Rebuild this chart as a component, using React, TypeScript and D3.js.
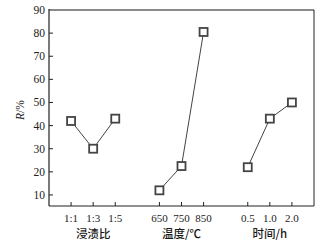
import { useEffect, useRef } from 'react';
import * as d3 from 'd3';

// slots on the x axis, blanks are the gaps between the three groups
const slots = ['1:1', '1:3', '1:5', 'gap1', '650', '750', '850', 'gap2', '0.5', '1.0', '2.0'];
const ratioCats = ['1:1', '1:3', '1:5'];
const ratioVals = [42, 30, 43];
const tempCats = ['650', '750', '850'];
const tempVals = [12, 22.5, 80.5];
const timeCats = ['0.5', '1.0', '2.0'];
const timeVals = [22, 43, 50];
const groupLabels = ['浸渍比', '温度/℃', '时间/h'];
const groupCenters = ['1:3', '750', '1.0'];
const yTicks = [10, 20, 30, 40, 50, 60, 70, 80, 90];

const width = 328;
const height = 244;

export default function App() {
  const svgRef = useRef<SVGSVGElement>(null);

  useEffect(() => {
    if (!svgRef.current) return;
    const svg = d3.select(svgRef.current);
    svg.selectAll('*').remove();

    const margin = { top: 10, right: 14, bottom: 38, left: 49 };
    const x0 = margin.left;
    const x1 = width - margin.right;
    const y0 = height - margin.bottom;
    const y1 = margin.top;

    const x = d3.scalePoint<string>().domain(slots).range([x0, x1]).padding(1);
    const y = d3.scaleLinear().domain([5, 90]).range([y0 + 0.5, y1]);

    const serif = '"Liberation Serif", "DejaVu Serif", serif';
    const cjk = '"Noto Sans CJK SC", sans-serif';

    // frame
    svg.append('line').attr('x1', x0).attr('x2', x1).attr('y1', y1).attr('y2', y1)
      .attr('stroke', '#8a8a8a').attr('stroke-width', 2);
    svg.append('line').attr('x1', x1).attr('x2', x1).attr('y1', y1).attr('y2', y0)
      .attr('stroke', '#222').attr('stroke-width', 1);
    svg.append('line').attr('x1', x0).attr('x2', x0).attr('y1', y1 - 1).attr('y2', y0)
      .attr('stroke', '#222').attr('stroke-width', 1.2);
    svg.append('line').attr('x1', x0).attr('x2', x1).attr('y1', y0).attr('y2', y0)
      .attr('stroke', '#222').attr('stroke-width', 1.2);

    // y ticks
    yTicks.forEach((t) => {
      if (t < 90) {
        svg.append('line').attr('x1', x0).attr('x2', x0 + 4)
          .attr('y1', y(t)).attr('y2', y(t)).attr('stroke', '#222');
      }
      svg.append('text').attr('x', x0 - 4).attr('y', y(t) + 4)
        .attr('text-anchor', 'end').attr('font-family', serif)
        .attr('font-size', 11.5).attr('fill', '#222').text(t);
    });

    // x ticks
    const cats = [...ratioCats, ...tempCats, ...timeCats];
    cats.forEach((c) => {
      const xx = x(c) as number;
      svg.append('line').attr('x1', xx).attr('x2', xx).attr('y1', y0).attr('y2', y0 - 4)
        .attr('stroke', '#222');
      svg.append('text').attr('x', xx).attr('y', y0 + 16)
        .attr('text-anchor', 'middle').attr('font-family', serif)
        .attr('font-size', 11).attr('fill', '#222').text(c);
    });

    // group labels
    groupLabels.forEach((g, i) => {
      svg.append('text').attr('x', x(groupCenters[i]) as number).attr('y', y0 + 32)
        .attr('text-anchor', 'middle').attr('font-family', cjk)
        .attr('font-size', 11.5).attr('font-weight', 500).attr('fill', '#1a1a1a').text(g);
    });

    // y label
    const yl = svg.append('text').attr('transform', `translate(24,${(y0 + y1) / 2 + 2}) rotate(-90)`)
      .attr('text-anchor', 'middle').attr('font-family', serif)
      .attr('font-size', 11.5).attr('fill', '#222');
    yl.append('tspan').attr('font-style', 'italic').text('R');
    yl.append('tspan').text('/%');

    const line = d3.line<[string, number]>()
      .x((d) => x(d[0]) as number)
      .y((d) => y(d[1]));

    const series: [string[], number[]][] = [
      [ratioCats, ratioVals],
      [tempCats, tempVals],
      [timeCats, timeVals],
    ];

    series.forEach(([c, v]) => {
      const pts = c.map((k, i) => [k, v[i]] as [string, number]);
      svg.append('path').datum(pts).attr('d', line)
        .attr('fill', 'none').attr('stroke', '#444').attr('stroke-width', 1);
      pts.forEach((p) => {
        svg.append('rect')
          .attr('x', (x(p[0]) as number) - 4).attr('y', y(p[1]) - 4)
          .attr('width', 8).attr('height', 8)
          .attr('fill', '#fff').attr('stroke', '#444').attr('stroke-width', 1.8);
      });
    });
  }, []);

  return (
    <svg
      ref={svgRef}
      width={width}
      height={height}
      style={{ position: 'absolute', left: 0, top: 0, background: '#fff' }}
    />
  );
}
